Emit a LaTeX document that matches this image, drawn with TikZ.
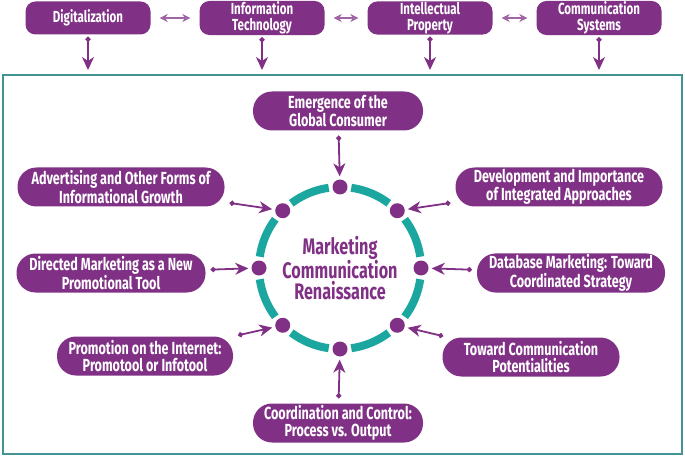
\documentclass[tikz,border=0pt]{standalone}
\usepackage{fontspec}
\newfontfamily\condfont{Fira Sans}[FakeStretch=0.72]
\usetikzlibrary{arrows.meta}
\definecolor{mcPurple}{RGB}{128,49,134}
\definecolor{mcTeal}{RGB}{27,166,160}
\definecolor{mcFrame}{RGB}{66,148,148}

\tikzset{
  topbox/.style={fill=mcPurple, text=white, rounded corners=10pt, minimum width=125pt,
    minimum height=33pt, align=center, inner sep=1pt,
    font=\condfont\bfseries\fontsize{16}{15.5}\selectfont},
  idea/.style={fill=mcPurple, text=white, rounded corners=19pt, minimum height=39pt,
    align=center, inner sep=1pt, font=\condfont\bfseries\fontsize{17.5}{17}\selectfont},
  hub/.style={circle, fill=mcPurple, minimum size=15pt, inner sep=0pt},
  feed/.style={draw=mcPurple, line width=1.8pt,
    arrows={Circle[length=5pt]-Stealth[length=13pt,width=12pt,inset=4pt]},
    shorten <=5pt, shorten >=3pt},
  link/.style={draw=mcPurple!75, line width=1.2pt,
    arrows={Stealth[length=8pt,width=8pt,inset=2.5pt]-Stealth[length=8pt,width=8pt,inset=2.5pt]},
    shorten <=9pt, shorten >=9pt},
}

\begin{document}
\begin{tikzpicture}[x=1pt, y=1pt]
\useasboundingbox (0,0) rectangle (685,-457);

% top row
\node[topbox] (dig) at (88,-18) {Digitalization};
\node[topbox] (it) at (262,-18) {Information\\Technology};
\node[topbox] (ip) at (430,-18) {Intellectual\\Property};
\node[topbox] (cs) at (599,-18) {Communication\\Systems};

\draw[link] (dig) -- (it);
\draw[link] (it) -- (ip);
\draw[link] (ip) -- (cs);

\coordinate (dDig) at (88,-70);
\coordinate (dIt) at (262,-70);
\coordinate (dIp) at (430,-70);
\coordinate (dCs) at (599,-70);
\draw[feed, shorten <=2pt, shorten >=0pt] (dig) -- (dDig);
\draw[feed, shorten <=2pt, shorten >=0pt] (it) -- (dIt);
\draw[feed, shorten <=2pt, shorten >=0pt] (ip) -- (dIp);
\draw[feed, shorten <=2pt, shorten >=0pt] (cs) -- (dCs);

% frame
\draw[mcFrame, line width=1.5pt] (3,-75) rectangle (682,-454);

% ring
\coordinate (c) at (340,-268);
\foreach \a in {90,45,0,-45,-90,-135,180,135}
  \draw[mcTeal, line width=8pt] ([shift={(\a+8:81)}]c) arc[start angle=\a+8, end angle=\a+37, radius=81];
\foreach \a/\n in {90/n, 45/ne, 0/e, -45/se, -90/s, -135/sw, 180/w, 135/nw}
  \node[hub] (h\n) at ([shift={(\a:81)}]c) {};

\node[text=mcPurple, align=center, font=\condfont\bfseries\fontsize{22.5}{21}\selectfont] (title) at (c) {Marketing\\Communication\\Renaissance};

% surrounding ideas
\node[idea, minimum width=170pt] (glob) at (338,-111) {Emergence of the\\Global Consumer};
\node[idea, minimum width=207pt] (adv) at (121,-187) {Advertising and Other Forms of\\Informational Growth};
\node[idea, minimum width=189pt] (dir) at (111,-273) {Directed Marketing as a New\\Promotional Tool};
\node[idea, minimum width=176pt] (prom) at (145,-356) {Promotion on the Internet:\\Promotool or Infotool};
\node[idea, minimum width=170pt] (coord) at (338,-423) {Coordination and Control:\\Process vs. Output};
\node[idea, minimum width=177pt] (toward) at (531,-357) {Toward Communication\\Potentialities};
\node[idea, minimum width=188pt] (data) at (571,-273) {Database Marketing: Toward\\Coordinated Strategy};
\node[idea, minimum width=207pt] (dev) at (559,-187) {Development and Importance\\of Integrated Approaches};

\draw[feed] (glob) -- (hn);
\draw[feed] (adv) -- (hnw);
\draw[feed] (dir) -- (hw);
\draw[feed] (prom) -- (hsw);
\draw[feed] (coord) -- (hs);
\draw[feed] (toward) -- (hse);
\draw[feed] (data) -- (he);
\draw[feed] (dev) -- (hne);

\end{tikzpicture}
\end{document}
